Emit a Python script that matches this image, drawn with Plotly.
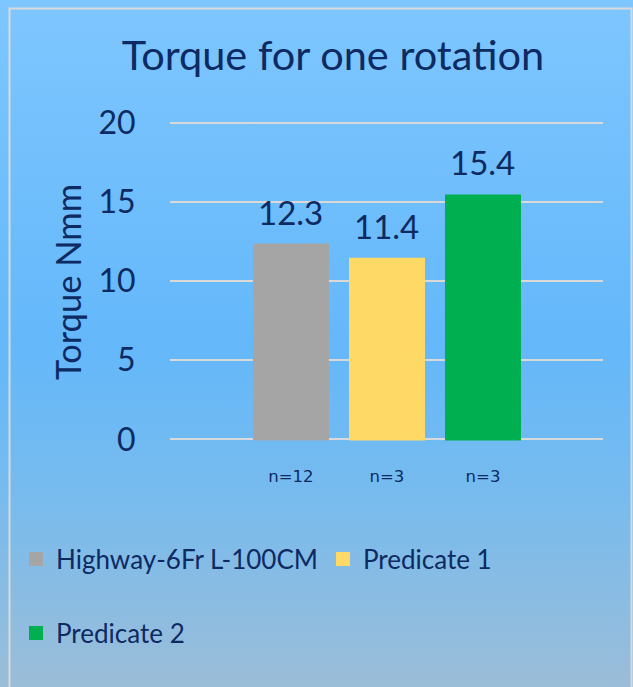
import base64
import plotly.graph_objects as go

# ---- data ----
series_names = ["Highway-6Fr L-100CM", "Predicate 1", "Predicate 2"]
series_values = [12.3, 11.4, 15.4]
tick_labels = ["n=12", "n=3", "n=3"]
bar_colors = ["#A5A5A5", "#FFD966", "#00B050"]
title_text = "Torque for one rotation"
y_title = "Torque Nmm"

W, H = 633, 687
ML, MR, MT, MB = 170, 30, 121, 246
PW = W - ML - MR
PH = H - MT - MB
NAVY = "#0D2A62"
FONT = "Lato"
YR = [-0.1, 20.1]

fig = go.Figure()
positions = list(range(len(series_values)))
for i, (name, val, col) in enumerate(zip(series_names, series_values, bar_colors)):
    fig.add_trace(go.Bar(
        x=[positions[i]], y=[val], name=name, width=74 / 96,
        marker=dict(color=col, line=dict(color=col, width=2)),
        legend="legend" if i < 2 else "legend2",
        hoverinfo="skip",
    ))

# data labels
for i, val in enumerate(series_values):
    fig.add_annotation(x=positions[i], y=val, text=f"{val}", showarrow=False,
                       yanchor="middle", yshift=33,
                       font=dict(family=FONT, size=33, color=NAVY))


def py(ypx):
    return (MT + PH - ypx) / PH


def px(xpx):
    return (xpx - ML) / PW


# axis title
fig.add_annotation(xref="paper", yref="paper", x=px(67), y=py(282),
                   text=y_title, textangle=-90, showarrow=False,
                   xanchor="center", yanchor="middle",
                   font=dict(family=FONT, size=34.5, color=NAVY))

# background gradient
svg = ('<svg xmlns="http://www.w3.org/2000/svg" width="633" height="687" preserveAspectRatio="none">'
       '<defs><linearGradient id="g" x1="0" y1="0" x2="0" y2="1">'
       '<stop offset="0" stop-color="#7EC6FF"/>'
       '<stop offset="0.5" stop-color="#64B8FA"/>'
       '<stop offset="0.72" stop-color="#77BBEE"/>'
       '<stop offset="1" stop-color="#9BBDD8"/>'
       '</linearGradient></defs><rect width="633" height="687" fill="url(#g)"/></svg>')
src = "data:image/svg+xml;base64," + base64.b64encode(svg.encode()).decode()
fig.add_layout_image(source=src, xref="paper", yref="paper",
                     x=-ML / PW, y=1 + MT / PH, sizex=W / PW, sizey=H / PH,
                     xanchor="left", yanchor="top", sizing="stretch", layer="below")

fig.add_shape(type="rect", xref="paper", yref="paper",
              x0=px(9.5), x1=px(631.5), y0=py(700), y1=py(8.5),
              line=dict(color="#D9D9D9", width=2), fillcolor="rgba(0,0,0,0)", layer="above")

fig.update_layout(
    width=W, height=H,
    margin=dict(l=ML, r=MR, t=MT, b=MB, pad=0, autoexpand=False),
    paper_bgcolor="#74BDF6", plot_bgcolor="rgba(0,0,0,0)",
    barmode="overlay",
    title=dict(text=title_text, x=333 / W, xref="container", xanchor="center",
               y=1 - 55 / H, yref="container", yanchor="middle",
               font=dict(family=FONT, size=41.5, color=NAVY)),
    xaxis=dict(range=[-1.26, 3.25], tickvals=positions, ticktext=tick_labels,
               showgrid=False, zeroline=False, showline=False,
               ticks="outside", ticklen=20, tickcolor="rgba(0,0,0,0)",
               tickfont=dict(family="DejaVu Sans", size=16.5, color=NAVY)),
    yaxis=dict(range=YR, tickvals=[0, 5, 10, 15, 20], showgrid=True, gridcolor="#D9D9D9",
               gridwidth=2, zeroline=False, showline=False,
               ticks="outside", ticklen=27, tickcolor="rgba(0,0,0,0)",
               tickfont=dict(family=FONT, size=32, color=NAVY)),
    legend=dict(orientation="h", xref="paper", yref="paper",
                x=px(16), y=py(559), xanchor="left", yanchor="middle",
                bgcolor="rgba(0,0,0,0)", itemwidth=30,
                font=dict(family=FONT, size=26, color=NAVY)),
    legend2=dict(orientation="h", xref="paper", yref="paper",
                 x=px(16), y=py(633), xanchor="left", yanchor="middle",
                 bgcolor="rgba(0,0,0,0)", itemwidth=30,
                 font=dict(family=FONT, size=26, color=NAVY)),
    showlegend=True,
)

fig.write_html("out.html", config={"displayModeBar": False},
               post_script="document.body.style.margin='0';")
